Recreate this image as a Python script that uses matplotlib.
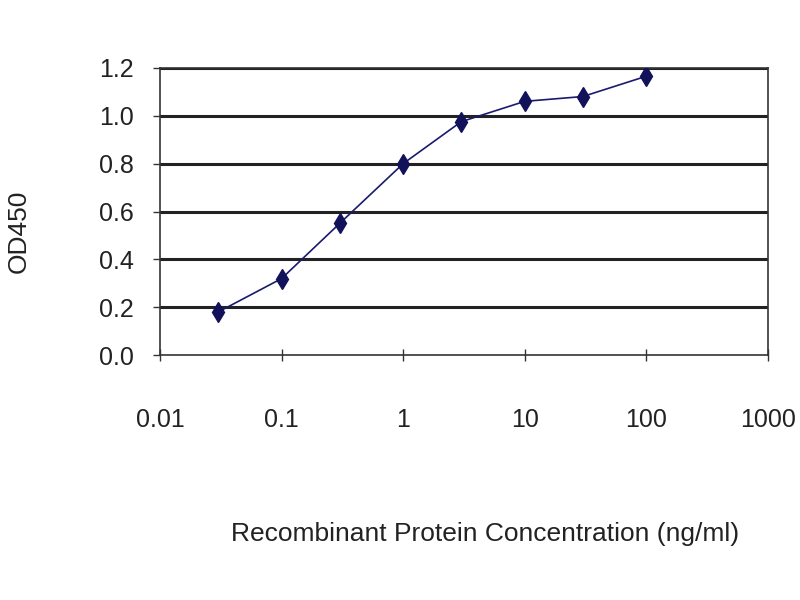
import numpy as np
import matplotlib.pyplot as plt

plt.rcParams['font.family'] = ['Liberation Sans', 'DejaVu Sans']

# --- Data ---
conc = [0.03, 0.1, 0.3, 1, 3, 10, 30, 100]
od450 = [0.18, 0.32, 0.55, 0.80, 0.975, 1.06, 1.08, 1.165]
x_ticks = [0.01, 0.1, 1, 10, 100, 1000]
x_labels = ["0.01", "0.1", "1", "10", "100", "1000"]
y_ticks = [0.0, 0.2, 0.4, 0.6, 0.8, 1.0, 1.2]
y_labels = ["0.0", "0.2", "0.4", "0.6", "0.8", "1.0", "1.2"]

fig = plt.figure(figsize=(8, 6), dpi=100)
ax = fig.add_axes([0.2, 0.408, 0.76, 0.479])

# --- Gridlines (Excel style) ---
for yv in y_ticks[1:]:
    ax.axhline(yv, color='#222222', lw=2.2, zorder=1)

# --- Curve ---
ax.plot(conc, od450, color='#1a1a6e', lw=1.2, marker='d', markersize=10,
        markerfacecolor='#12125a', markeredgecolor='#12125a', zorder=3)

ax.set_xscale('log')
ax.set_xlim(0.01, 1000)
ax.set_ylim(0, 1.2)
ax.set_xticks(x_ticks)
ax.set_xticklabels(x_labels)
ax.minorticks_off()
ax.set_yticks(y_ticks)
ax.set_yticklabels(y_labels)

for s in ax.spines.values():
    s.set_color('#333333')
    s.set_linewidth(1.2)

ax.tick_params(axis='x', direction='inout', length=8, width=1, pad=34,
               labelsize=18, colors='#333333', labelcolor='#222222')
ax.tick_params(axis='y', direction='out', length=5, width=1, pad=14,
               labelsize=18, colors='#333333', labelcolor='#222222')

ax.set_xlabel("Recombinant Protein Concentration (ng/ml)", fontsize=19,
              color='#222222')
ax.xaxis.set_label_coords(0.535, -0.58)
ax.set_ylabel("OD450", fontsize=19, color='#222222')
ax.yaxis.set_label_coords(-0.212, 0.43)

fig.savefig("out.png", dpi=100)
